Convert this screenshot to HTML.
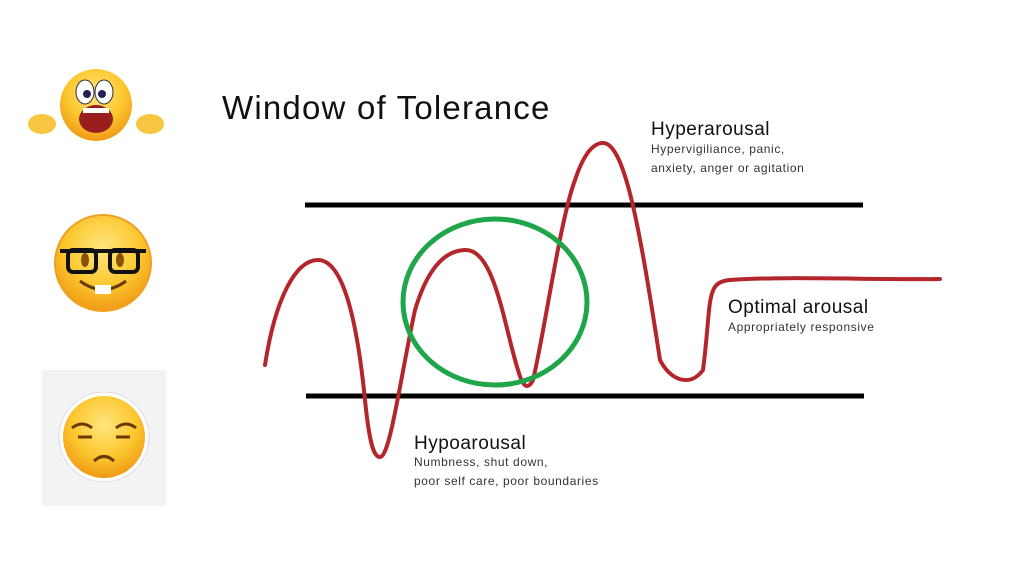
<!DOCTYPE html>
<html><head><style>
body{margin:0;width:1024px;height:571px;background:#fff;overflow:hidden;font-family:"Liberation Sans",sans-serif;position:relative}
.t{position:absolute;color:#111;white-space:nowrap}
.h{font-size:19px;letter-spacing:0.5px}
.s{font-size:12px;color:#333;line-height:19px;letter-spacing:0.6px}
</style></head><body>
<svg width="1024" height="571" style="position:absolute;left:0;top:0">
<defs>
<radialGradient id="y" cx="50%" cy="35%" r="65%"><stop offset="0" stop-color="#ffe680"/><stop offset="0.6" stop-color="#fcc72e"/><stop offset="1" stop-color="#f09a16"/></radialGradient>
</defs>
<g>
<ellipse cx="42" cy="124" rx="14" ry="10" fill="#f8c640"/>
<ellipse cx="150" cy="124" rx="14" ry="10" fill="#f8c640"/>
<circle cx="96" cy="105" r="36" fill="url(#y)"/>
<ellipse cx="85" cy="92" rx="9" ry="12" fill="#fff" stroke="#333"/>
<ellipse cx="104" cy="92" rx="9" ry="12" fill="#fff" stroke="#333"/>
<circle cx="87" cy="94" r="4" fill="#225"/><circle cx="102" cy="94" r="4" fill="#225"/>
<ellipse cx="96" cy="119" rx="17" ry="14" fill="#9b1e1e"/>
<rect x="83" y="108" width="26" height="5" fill="#fff"/>
</g>
<circle cx="103" cy="263" r="48" fill="url(#y)" stroke="#f0a020" stroke-width="2"/>
<rect x="68" y="250" width="28" height="22" rx="5" fill="none" stroke="#111" stroke-width="4"/>
<rect x="110" y="250" width="28" height="22" rx="5" fill="none" stroke="#111" stroke-width="4"/>
<line x1="60" y1="251" x2="146" y2="251" stroke="#111" stroke-width="4"/>
<ellipse cx="85" cy="260" rx="4" ry="7" fill="#8a5200"/><ellipse cx="120" cy="260" rx="4" ry="7" fill="#8a5200"/>
<path d="M80 281 Q103 298 126 281" fill="none" stroke="#6a3a00" stroke-width="3"/>
<rect x="95" y="285" width="16" height="9" fill="#fff"/>
<rect x="42" y="370" width="124" height="136" fill="#f3f3f3"/>
<circle cx="104" cy="437" r="45" fill="#fff" stroke="#ddd"/>
<circle cx="104" cy="437" r="41" fill="url(#y)"/>
<path d="M72 428 Q82 420 92 428 M116 428 Q126 420 136 428" stroke="#6a3a00" stroke-width="3" fill="none"/>
<path d="M78 437 L92 437 M116 437 L130 437" stroke="#6a3a00" stroke-width="3"/>
<path d="M94 461 Q104 452 114 461" stroke="#6a3a00" stroke-width="3" fill="none"/>
<line x1="305" y1="205" x2="863" y2="205" stroke="#000" stroke-width="5"/>
<line x1="306" y1="396" x2="864" y2="396" stroke="#000" stroke-width="5"/>
<path d="M265 365 C275 300 295 260 318 260 C345 260 358 330 365 400 C370 450 375 457 380 457 C390 457 400 380 415 310 C430 260 450 250 466 250 C495 250 505 330 518 370 C523 388 528 390 533 380 C545 330 560 220 575 180 C585 150 595 143 603 143 C625 143 640 230 660 360 C670 380 690 388 703 370 C712 300 705 282 730 280 C780 276 880 280 940 279" fill="none" stroke="#b4262c" stroke-width="4" stroke-linecap="round"/>
<ellipse cx="495" cy="302" rx="92" ry="83" fill="none" stroke="#1fa64a" stroke-width="5"/>
</svg>
<div class="t" style="left:222px;top:89px;font-size:33px;letter-spacing:1.2px">Window of Tolerance</div>
<div class="t h" style="left:651px;top:119px">Hyperarousal</div>
<div class="t s" style="left:651px;top:140px">Hypervigiliance, panic,<br>anxiety, anger or agitation</div>
<div class="t h" style="left:728px;top:297px">Optimal arousal</div>
<div class="t s" style="left:728px;top:318px">Appropriately responsive</div>
<div class="t h" style="left:414px;top:433px">Hypoarousal</div>
<div class="t s" style="left:414px;top:453px">Numbness, shut down,<br>poor self care, poor boundaries</div>
</body></html>
